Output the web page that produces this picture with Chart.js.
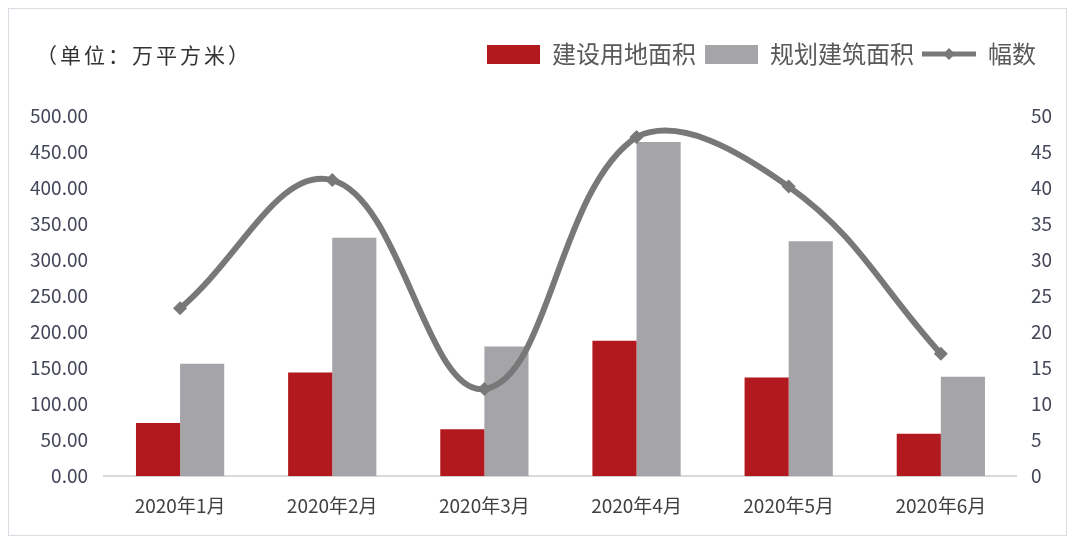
<!DOCTYPE html>
<html>
<head>
<meta charset="utf-8">
<script src="https://cdn.jsdelivr.net/npm/chart.js@4.4.0/dist/chart.umd.min.js"></script>
<style>
  html, body { margin: 0; padding: 0; background: #fff; }
  #wrap { position: relative; width: 1080px; height: 545px; }
  #frame { position: absolute; left: 8px; top: 8px; width: 1059px; height: 528px; border: 1px solid #dcdce4; box-sizing: border-box; }
  canvas { position: absolute; left: 0; top: 0; }
</style>
</head>
<body>
<div id="wrap">
  <div id="frame"></div>
  <canvas id="myChart" width="1080" height="545"></canvas>
</div>
<script>
// chart values
const categories = ['2020年1月', '2020年2月', '2020年3月', '2020年4月', '2020年5月', '2020年6月'];
const landArea = [74, 144, 65, 188, 137, 59];        // 建设用地面积
const buildArea = [156, 331, 180, 464, 326, 138];    // 规划建筑面积
const counts = [23.3, 41.1, 12.1, 47.1, 40.2, 17.0]; // 幅数
const unitText = '（单位：万平方米）';

const RED = '#b2191f';
const GREY = '#a5a4a8';
const LINE = '#787878';
const FONT = "'Noto Sans CJK SC', 'Noto Sans', sans-serif";

// legend icons
function boxIcon(color) {
  const c = document.createElement('canvas');
  c.width = 53; c.height = 19;
  const g = c.getContext('2d');
  g.fillStyle = color;
  g.fillRect(0, 0, 53, 19);
  return c;
}
function lineIcon() {
  const c = document.createElement('canvas');
  c.width = 54; c.height = 14;
  const g = c.getContext('2d');
  g.strokeStyle = LINE; g.lineWidth = 5;
  g.beginPath(); g.moveTo(0, 7); g.lineTo(54, 7); g.stroke();
  g.fillStyle = LINE;
  g.beginPath(); g.moveTo(27, 1); g.lineTo(33, 7); g.lineTo(27, 13); g.lineTo(21, 7); g.closePath(); g.fill();
  return c;
}
const icons = [boxIcon(RED), boxIcon(GREY), lineIcon()];

const unitLabel = {
  id: 'unitLabel',
  afterDraw(chart) {
    const ctx = chart.ctx;
    ctx.save();
    ctx.font = "21px 'Noto Sans CJK SC', sans-serif";
    ctx.letterSpacing = '3px';
    ctx.fillStyle = '#333';
    ctx.textBaseline = 'middle';
    ctx.fillText(unitText, 36, 55);
    ctx.restore();
  }
};

// extra room under the legend, and pull it in from the right edge
const legendSpace = {
  id: 'legendSpace',
  beforeInit(chart) {
    const fit = chart.legend.fit;
    chart.legend.fit = function () {
      fit.bind(chart.legend)();
      this.height += 40;
    };
  },
  afterLayout(chart) {
    chart.legend.left -= 22;
    chart.legend.right -= 22;
  }
};

const ctx = document.getElementById('myChart');
new Chart(ctx, {
  type: 'bar',
  data: {
    labels: categories,
    datasets: [
      {
        type: 'line',
        label: '幅数',
        data: counts,
        yAxisID: 'y1',
        borderColor: LINE,
        backgroundColor: LINE,
        borderWidth: 6,
        tension: 0.4,
        pointStyle: 'rectRot',
        pointRadius: 7,
        pointBorderWidth: 0,
        order: 0,
      },
      {
        label: '建设用地面积',
        data: landArea,
        backgroundColor: RED,
        yAxisID: 'y',
        order: 1,
      },
      {
        label: '规划建筑面积',
        data: buildArea,
        backgroundColor: GREY,
        yAxisID: 'y',
        order: 2,
      },
    ],
  },
  options: {
    responsive: false,
    animation: false,
    devicePixelRatio: 1,
    layout: { padding: { top: 34, left: 14, right: 14, bottom: 10 } },
    datasets: {
      bar: { categoryPercentage: 0.58, barPercentage: 1.0 },
    },
    plugins: {
      tooltip: { enabled: false },
      legend: {
        position: 'top',
        align: 'end',
        labels: {
          usePointStyle: true,
          pointStyleWidth: 54,
          boxHeight: 19,
          padding: 8,
          color: '#595959',
          font: { family: FONT, size: 24 },
          generateLabels(chart) {
            const names = ['建设用地面积', '规划建筑面积', '幅数'];
            const dsIdx = [1, 2, 0];
            return names.map((n, i) => ({
              text: n,
              pointStyle: icons[i],
              datasetIndex: dsIdx[i],
              fontColor: '#595959',
              lineWidth: 0,
              strokeStyle: 'transparent',
              fillStyle: 'transparent',
              hidden: false,
            }));
          },
        },
      },
    },
    scales: {
      x: {
        grid: { display: false, drawTicks: false },
        border: { display: true, color: '#d9d9d9', width: 2 },
        ticks: { color: '#404040', padding: 18, font: { family: FONT, size: 19 } },
      },
      y: {
        position: 'left',
        min: 0,
        max: 500,
        grid: { display: false, drawTicks: false },
        border: { display: false },
        ticks: {
          stepSize: 50,
          color: '#44465a',
          padding: 16,
          font: { family: FONT, size: 19 },
          callback: (v) => v.toFixed(2),
        },
      },
      y1: {
        position: 'right',
        min: 0,
        max: 50,
        grid: { display: false, drawTicks: false },
        border: { display: false },
        ticks: {
          stepSize: 5,
          color: '#44465a',
          padding: 14,
          font: { family: FONT, size: 19 },
        },
      },
    },
  },
  plugins: [unitLabel, legendSpace],
});
</script>
</body>
</html>
